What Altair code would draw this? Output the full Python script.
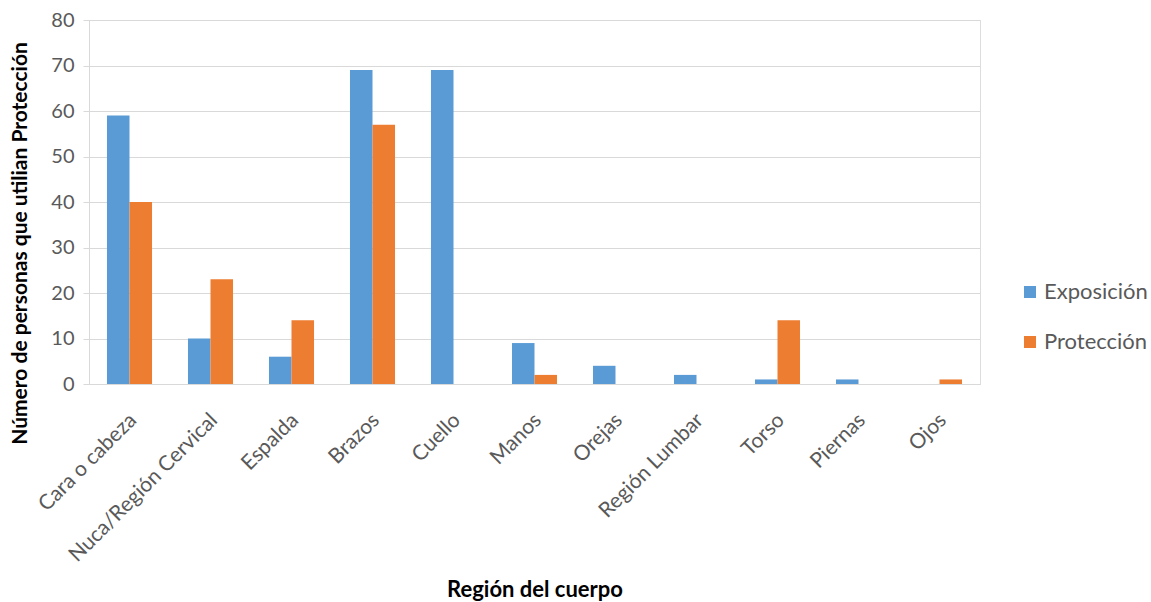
import altair as alt
import pandas as pd

categories = ["Cara o cabeza", "Nuca/Región Cervical", "Espalda", "Brazos", "Cuello",
              "Manos", "Orejas", "Región Lumbar", "Torso", "Piernas", "Ojos"]
exposicion = [59, 10, 6, 69, 69, 9, 4, 2, 1, 1, 0]
proteccion = [40, 23, 14, 57, 0, 2, 0, 0, 14, 0, 1]
series = ["Exposición", "Protección"]
colors = ["#5B9BD5", "#ED7D31"]

rows = []
for c, e, p in zip(categories, exposicion, proteccion):
    rows.append({"cat": c, "serie": series[0], "val": e})
    rows.append({"cat": c, "serie": series[1], "val": p})
df = pd.DataFrame(rows)

FONT = "Lato"

chart = alt.Chart(df).mark_bar().encode(
    x=alt.X("cat:N", sort=categories,
            scale=alt.Scale(paddingInner=0.444, paddingOuter=0.222),
            axis=alt.Axis(title="Región del cuerpo", labelAngle=-45, labelFontSize=21,
                          labelColor="#595959", labelFont=FONT, ticks=False, labelLimit=400,
                          domainColor="#d9d9d9", titleFont=FONT, titleFontSize=22,
                          titleFontWeight="bold", titleColor="#000000",
                          titleY=205, titleBaseline="middle", labelPadding=25, labelOffset=-4)),
    xOffset=alt.XOffset("serie:N", sort=series, scale=alt.Scale(paddingInner=0, paddingOuter=0)),
    y=alt.Y("val:Q", scale=alt.Scale(domain=[0, 80]),
            axis=alt.Axis(title="Número de personas que utilian Protección", values=list(range(0, 81, 10)),
                          labelFontSize=20, labelColor="#595959", labelFont=FONT,
                          tickColor="#d9d9d9", tickSize=6, domainColor="#d9d9d9",
                          gridColor="#d9d9d9", titleFont=FONT, titleFontSize=21,
                          titleFontWeight="bold", titleColor="#000000",
                          titleX=-69, titleY=223, titleBaseline="middle", labelPadding=9)),
    color=alt.Color("serie:N", sort=series,
                    scale=alt.Scale(domain=series, range=colors),
                    legend=alt.Legend(title=None, orient="none", legendX=930, legendY=261,
                                      symbolType="square", symbolSize=144, symbolStrokeWidth=0,
                                      labelFontSize=22, labelFont=FONT, labelColor="#595959",
                                      rowPadding=28, labelOffset=3)),
).properties(
    width=891, height=364,
    autosize=alt.AutoSizeParams(type="none"),
    padding={"left": 89, "top": 20, "right": 171, "bottom": 218},
).configure_view(stroke=None).configure(background="white")

chart.save("out.html", embed_options={"renderer": "svg", "actions": False})
